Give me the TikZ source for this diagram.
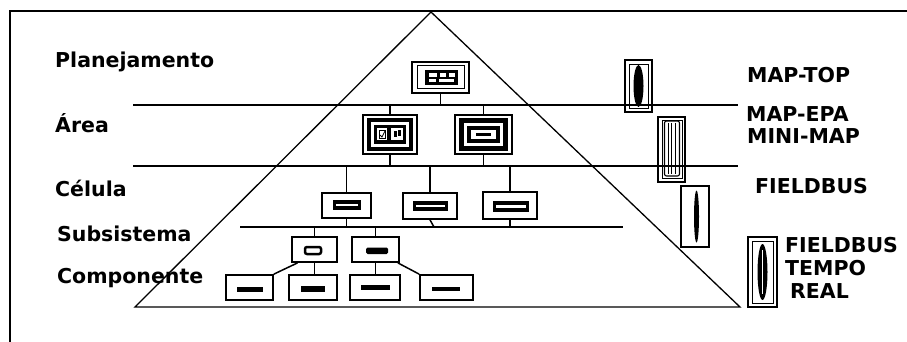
\documentclass[tikz,border=0pt]{standalone}
\usepackage{fontspec}
\setmainfont{DejaVu Sans}
\begin{document}
\begin{tikzpicture}[x=1pt,y=-1pt,
  lab/.style={font=\bfseries\fontsize{20.5}{24}\selectfont, anchor=base west, inner sep=0pt},
  unit/.style={draw, line width=1.8pt, fill=white, inner sep=0pt, rectangle},
  ln/.style={line width=1.5pt},
  blk/.style={fill=black},
  wht/.style={fill=white}
]
\useasboundingbox (0,0) rectangle (907,342);
% frame (top and left)
\draw[line width=1.2pt] (10,342) -- (10,11) -- (907,11);

% pyramid
\coordinate (tl) at (135,307);
\coordinate (tt) at (431,12);
\coordinate (tr) at (740,307);
\draw[line width=1.3pt] (tl) -- (tt) -- (tr) -- cycle;

% level lines
\coordinate (l1a) at (133,105); \coordinate (l1b) at (738,105);
\coordinate (l2a) at (133,166); \coordinate (l2b) at (738,166);
\coordinate (l3a) at (240,227); \coordinate (l3b) at (623,227);
\draw[ln] (l1a) -- (l1b);
\draw[ln] (l3a) -- (l3b);

% left labels
\node[lab] (planej) at (55,68) {Planejamento};
\node[lab] (area) at (55,132) {Área};
\node[lab] (celula) at (55,196) {Célula};
\node[lab] (subs) at (57,241) {Subsistema};
\node[lab] (comp) at (57,283) {Componente};

% right labels
\node[lab] (maptop) at (747,83) {MAP-TOP};
\node[lab] (mapepa) at (746,122) {MAP-EPA};
\node[lab] (minimap) at (747,143) {MINI-MAP};
\node[lab] (fb) at (755,193) {FIELDBUS};
\node[lab] (fbtr) at (785,252) {FIELDBUS};
\node[lab] (tempo) at (785,275) {TEMPO};
\node[lab] (real) at (790,298) {REAL};

% ---- Planejamento box
\node[unit, minimum width=57, minimum height=31] (P) at (440.5,77.5) {};
\draw[line width=1pt] (417,66) rectangle (464,89);
\fill[blk] (425,70) rectangle (458,85);
\fill[wht] (429,73) rectangle (437,77);
\fill[wht] (440,73) rectangle (446,77);
\fill[wht] (449,73) rectangle (455,77);
\fill[wht] (429,79) rectangle (436,82);
\fill[wht] (439,79) rectangle (454,82);

% ---- Area boxes
\node[unit, minimum width=54, minimum height=39] (A1) at (390,134.5) {};
\fill[blk] (367,118) rectangle (413,151);
\fill[wht] (371,122) rectangle (409,147);
\fill[blk] (374,125) rectangle (406,144);
\fill[wht] (377,128) rectangle (387,140);
\draw[line width=0.8pt] (379,130) rectangle (385,138);
\draw[line width=0.8pt] (380,135) -- (382,137) -- (385,131);
\fill[wht] (391,128) rectangle (403,140);
\fill[blk] (394,131) rectangle (397,137);
\fill[blk] (398,130) rectangle (401,136);

\node[unit, minimum width=57, minimum height=39] (A2) at (483.5,134.5) {};
\fill[blk] (459,118) rectangle (508,151);
\fill[wht] (464,123) rectangle (503,146);
\fill[blk] (467,126) rectangle (500,143);
\fill[wht] (471,130) rectangle (496,139);
\fill[blk] (476,133) rectangle (491,136.5);

% ---- Celula boxes
\node[unit, minimum width=49, minimum height=25] (C1) at (346.5,205.5) {};
\fill[blk] (333,200) rectangle (361,210);
\fill[wht] (336,204) rectangle (358,206);
\node[unit, minimum width=54, minimum height=26] (C2) at (430,206) {};
\fill[blk] (413,201) rectangle (448,211);
\fill[wht] (416,204.5) rectangle (445,207);
\node[unit, minimum width=54, minimum height=27] (C3) at (510,205.5) {};
\fill[blk] (493,201) rectangle (529,212);
\fill[wht] (496,205) rectangle (526,207.5);

% ---- Subsistema boxes
\node[unit, minimum width=45, minimum height=25] (S1) at (314.5,249.5) {};
\draw[line width=2.5pt, rounded corners=2pt] (305,247) rectangle (321,254);
\node[unit, minimum width=47, minimum height=25] (S2) at (375.5,249.5) {};
\fill[blk, rounded corners=1.5pt] (366,247.5) rectangle (388,254);

% ---- Componente boxes
\node[unit, minimum width=47, minimum height=25] (K1) at (249.5,287.5) {};
\fill[blk] (237,286.5) rectangle (263,292);
\node[unit, minimum width=48, minimum height=25] (K2) at (313,287.5) {};
\fill[blk] (301,285.5) rectangle (325,291.5);
\node[unit, minimum width=50, minimum height=25] (K3) at (375,287.5) {};
\fill[blk] (361,284.5) rectangle (390,290);
\node[unit, minimum width=53, minimum height=25] (K4) at (446.5,287.5) {};
\fill[blk] (432,286.5) rectangle (460,290.5);

% ---- connectors
\draw[ln] (P.south) -- (P.south |- l1a);
\draw[ln] (A1.north) -- (A1.north |- l1a);
\draw[ln] (A2.north) -- (A2.north |- l1a);
\draw[ln] (A1.south) -- (A1.south |- l2a);
\draw[ln] (A2.south) -- (A2.south |- l2a);
\draw[ln] (C1.north) -- (C1.north |- l2a);
\draw[ln] (C2.north) -- (C2.north |- l2a);
\draw[ln] (C3.north) -- (C3.north |- l2a);
\draw[ln] (C1.south) -- (C1.south |- l3a);
\draw[ln] (C2.south) -- ([xshift=4]C2.south |- l3a);
\draw[ln] (C3.south) -- (C3.south |- l3a);
\draw[ln] (S1.north) -- (S1.north |- l3a);
\draw[ln] (S2.north) -- (S2.north |- l3a);
\draw[ln] ([xshift=-17]S1.south) -- (K1.north east);
\draw[ln] (S1.south) -- (S1.south |- K2.north);
\draw[ln] (S2.south) -- (S2.south |- K3.north);
\draw[ln] ([xshift=-2]S2.south east) -- (K4.north west);

% ---- network icons on the right
% MAP-TOP
\node[draw, line width=1.3pt, fill=white, minimum width=27, minimum height=52, inner sep=0pt] (I1) at (638.5,86) {};
\draw[line width=0.9pt] (629,64) rectangle (648,108);
\fill[blk] (638.5,86) ellipse [x radius=5, y radius=21];
\draw[ln] (l1a) -- (l1b);
% MAP-EPA / MINI-MAP
\node[draw, line width=1.3pt, fill=white, minimum width=27, minimum height=65, inner sep=0pt] (I2) at (671.5,149.5) {};
\draw[line width=0.9pt] (662,120) rectangle (682,178);
\draw[line width=1.1pt, rounded corners=2pt] (664.5,121) rectangle (679.5,176);
\draw[line width=0.8pt] (668,123) -- (668,174);
\draw[line width=0.8pt] (671.5,123) -- (671.5,174);
\draw[line width=0.8pt] (675.5,123) -- (675.5,174);
\draw[ln] (l2a) -- (l2b);
% FIELDBUS
\node[draw, line width=1.3pt, fill=white, minimum width=28, minimum height=61, inner sep=0pt] (I3) at (695,216.5) {};
\fill[blk] (696.5,216.5) ellipse [x radius=2.5, y radius=26];
% FIELDBUS TEMPO REAL
\node[draw, line width=1.3pt, fill=white, minimum width=29, minimum height=70, inner sep=0pt] (I4) at (762.5,272) {};
\draw[line width=0.9pt] (752,241) rectangle (773,303);
\fill[blk] (762.5,272) ellipse [x radius=5, y radius=28];
\draw[line width=0.6pt, white] (762.5,250) -- (762.5,294);
\end{tikzpicture}
\end{document}
